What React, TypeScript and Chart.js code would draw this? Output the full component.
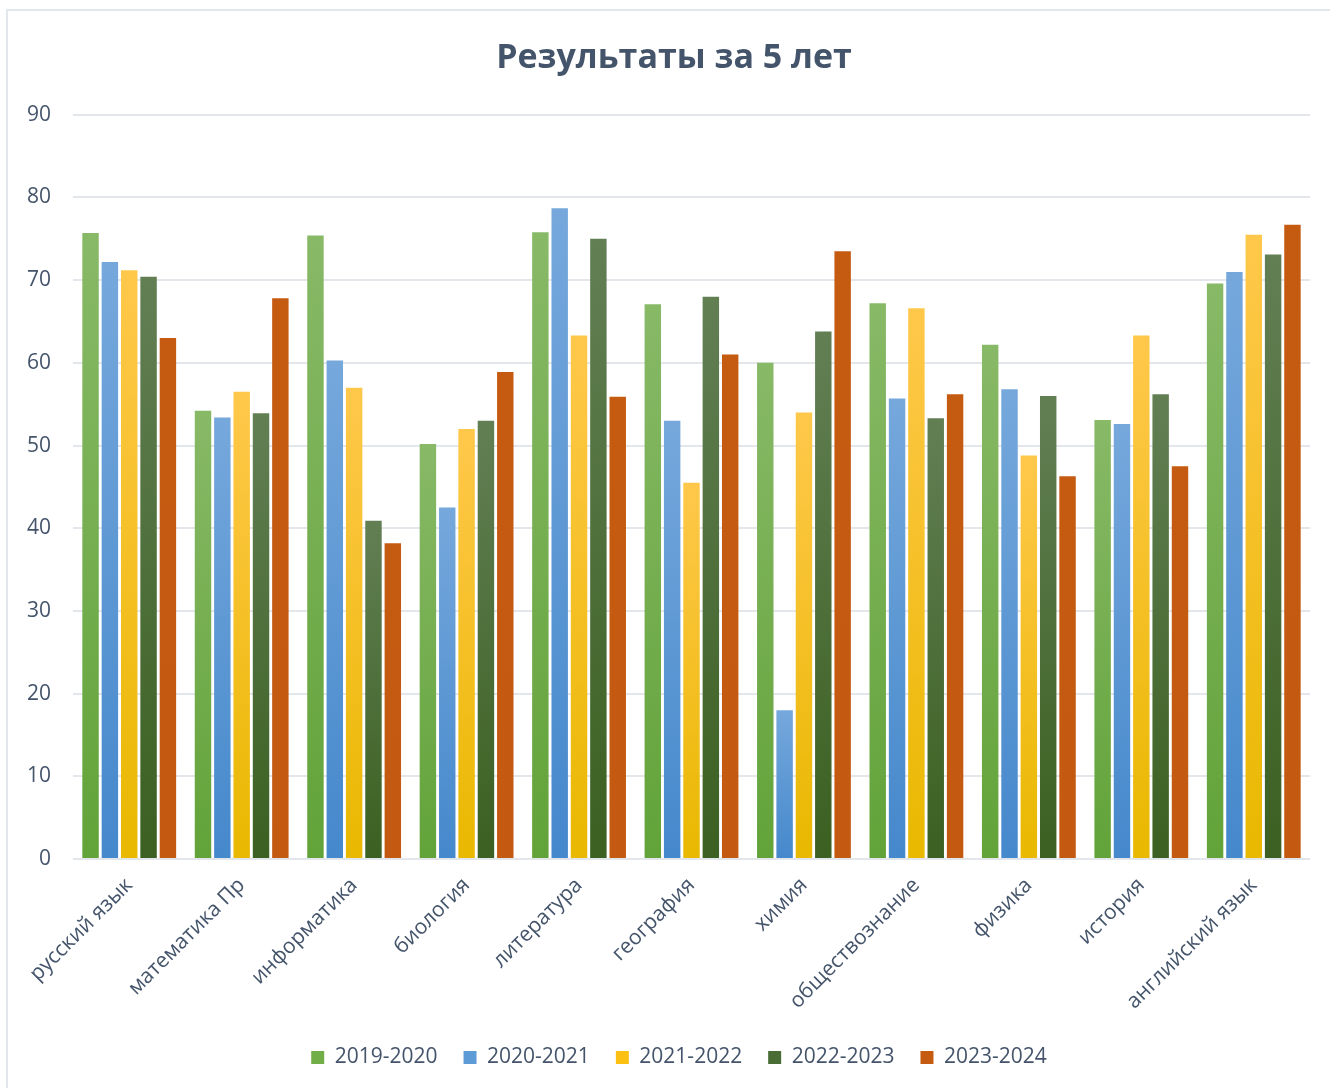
import React, { useEffect, useRef } from "react";
import { Chart, registerables } from "chart.js";

Chart.register(...registerables);

const categories = [
  "русский язык",
  "математика Пр",
  "информатика",
  "биология",
  "литература",
  "география",
  "химия",
  "обществознание",
  "физика",
  "история",
  "английский язык",
];

const seriesNames = ["2019-2020", "2020-2021", "2021-2022", "2022-2023", "2023-2024"];

const values2019 = [75.7, 54.2, 75.4, 50.2, 75.8, 67.1, 60.0, 67.2, 62.2, 53.1, 69.6];
const values2020 = [72.2, 53.4, 60.3, 42.5, 78.7, 53.0, 18.0, 55.7, 56.8, 52.6, 71.0];
const values2021 = [71.2, 56.5, 57.0, 52.0, 63.3, 45.5, 54.0, 66.6, 48.8, 63.3, 75.5];
const values2022 = [70.4, 53.9, 40.9, 53.0, 75.0, 68.0, 63.8, 53.3, 56.0, 56.2, 73.1];
const values2023 = [63.0, 67.8, 38.2, 58.9, 55.9, 61.0, 73.5, 56.2, 46.3, 47.5, 76.7];

const yTicks = [0, 10, 20, 30, 40, 50, 60, 70, 80, 90];

const colorsTop = ["#88b967", "#76a8dc", "#ffc84b", "#627f54", "#c55a11"];
const colorsBottom = ["#62a339", "#4588cc", "#e9b800", "#3b6021", "#c45911"];
const colorsLegend = ["#72ae48", "#5c9bd6", "#fcc012", "#4a6d36", "#c55a11"];

const TEXT = "#44546a";
const FONT = "'Open Sans', 'Noto Sans', sans-serif";

const TITLE_SHIFT = 38;
const LEGEND_SHIFT = 48;

const shiftPlugin = {
  id: "shiftTitleLegend",
  afterLayout(chart: any) {
    if (chart.titleBlock) chart.titleBlock.left += TITLE_SHIFT;
    if (chart.legend) chart.legend.left += LEGEND_SHIFT;
  },
};

export default function App() {
  const ref = useRef<HTMLCanvasElement>(null);

  useEffect(() => {
    if (!ref.current) return;
    const all = [values2019, values2020, values2021, values2022, values2023];
    const makeBg = (i: number) => (ctx: any) => {
      if (ctx.type !== "data") return colorsLegend[i];
      const chart = ctx.chart;
      const y = chart.scales && chart.scales.y;
      if (!y) return colorsLegend[i];
      const top = y.getPixelForValue(ctx.raw);
      const bottom = y.getPixelForValue(0);
      if (!isFinite(top) || !isFinite(bottom) || bottom - top < 1) return colorsLegend[i];
      const g = chart.ctx.createLinearGradient(0, top, 0, bottom);
      g.addColorStop(0, colorsTop[i]);
      g.addColorStop(1, colorsBottom[i]);
      return g;
    };
    const chart = new Chart(ref.current, {
      type: "bar",
      data: {
        labels: categories,
        datasets: seriesNames.map((name, i) => ({
          label: name,
          data: all[i],
          backgroundColor: makeBg(i),
          borderWidth: 0,
          categoryPercentage: 0.86,
          barPercentage: 0.85,
        })),
      },
      plugins: [shiftPlugin],
      options: {
        responsive: false,
        animation: false,
        devicePixelRatio: 1,
        layout: { padding: { top: 10, left: 0, right: 20, bottom: 10 } },
        plugins: {
          title: {
            display: true,
            text: "Результаты за 5 лет",
            color: TEXT,
            font: { family: FONT, size: 34, weight: "bold" },
            padding: { top: 28, bottom: 36 },
          },
          legend: {
            position: "bottom",
            labels: {
              color: TEXT,
              font: { family: FONT, size: 21 },
              boxWidth: 13,
              boxHeight: 13,
              padding: 26,
              generateLabels: () =>
                seriesNames.map((name, i) => ({
                  text: name,
                  fillStyle: colorsLegend[i],
                  strokeStyle: colorsLegend[i],
                  lineWidth: 0,
                  hidden: false,
                  datasetIndex: i,
                  fontColor: TEXT,
                })),
            },
          },
          tooltip: { enabled: false },
        },
        scales: {
          x: {
            grid: { display: false },
            border: { display: false },
            ticks: {
              color: TEXT,
              font: { family: FONT, size: 21 },
              minRotation: 45,
              maxRotation: 45,
              autoSkip: false,
              padding: 6,
            },
            afterFit: (s: any) => {
              s.height = 162;
            },
          },
          y: {
            min: 0,
            max: 90,
            afterBuildTicks: (s: any) => {
              s.ticks = yTicks.map((v) => ({ value: v }));
            },
            grid: { color: "#e3e6ea", lineWidth: 2, drawTicks: false },
            border: { display: false },
            ticks: {
              color: TEXT,
              font: { family: FONT, size: 21 },
              padding: 22,
            },
            afterFit: (s: any) => {
              s.width = 73;
            },
          },
        },
      },
    });
    return () => chart.destroy();
  }, []);

  return (
    <div
      style={{
        position: "absolute",
        left: 0,
        top: 0,
        width: 1330,
        height: 1088,
        background: "#ffffff",
        overflow: "hidden",
      }}
    >
      <div
        style={{
          position: "absolute",
          left: 6,
          top: 9,
          width: 1340,
          height: 1100,
          border: "2px solid #e3e6ea",
          boxSizing: "border-box",
        }}
      />
      <canvas
        ref={ref}
        width={1330}
        height={1088}
        style={{ position: "absolute", left: 0, top: 0, width: 1330, height: 1088 }}
      />
    </div>
  );
}
